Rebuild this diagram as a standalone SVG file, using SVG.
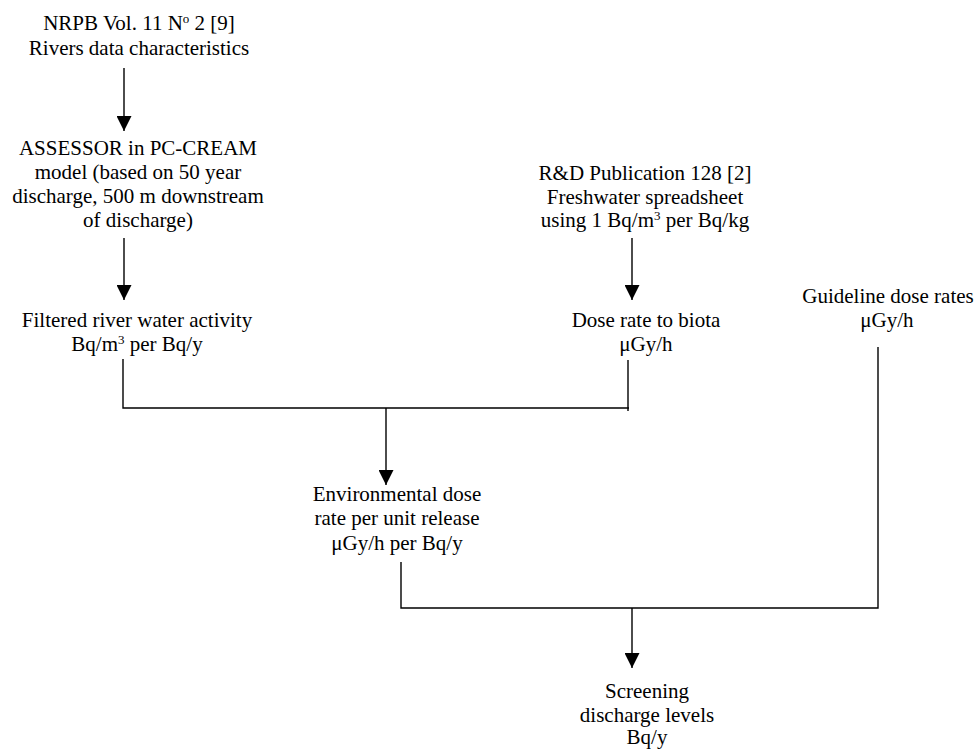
<svg xmlns="http://www.w3.org/2000/svg" width="976" height="749" viewBox="0 0 976 749">
<style>
text{font-family:"Liberation Serif","Times New Roman",serif;font-size:21px;fill:#000;text-anchor:middle}
.sup{font-size:13px}
.ln{stroke:#000;stroke-width:1.4;fill:none}
</style>
<defs>
<marker id="ah" markerUnits="userSpaceOnUse" markerWidth="15" markerHeight="15" refX="15" refY="7.5" orient="auto">
<path d="M0,0 L15,7.5 L0,15 z" fill="#000"/>
</marker>
</defs>
<rect width="976" height="749" fill="#fff"/>
<g id="n-nrpb">
<text x="139" y="30">NRPB Vol. 11 N<tspan class="sup" baseline-shift="super">o</tspan> 2 [9]</text>
<text x="139" y="55">Rivers data characteristics</text>
</g>
<g id="n-assessor">
<text x="138" y="155">ASSESSOR in PC-CREAM</text>
<text x="138" y="179">model (based on 50 year</text>
<text x="138" y="203">discharge, 500 m downstream</text>
<text x="138" y="227">of discharge)</text>
</g>
<g id="n-filtered">
<text x="137" y="327">Filtered river water activity</text>
<text x="137" y="351">Bq/m<tspan class="sup" baseline-shift="super">3</tspan> per Bq/y</text>
</g>
<g id="n-rd">
<text x="645" y="180">R&amp;D Publication 128 [2]</text>
<text x="645" y="204">Freshwater spreadsheet</text>
<text x="645" y="227">using 1 Bq/m<tspan class="sup" baseline-shift="super">3</tspan> per Bq/kg</text>
</g>
<g id="n-dose">
<text x="646" y="327">Dose rate to biota</text>
<text x="646" y="351">μGy/h</text>
</g>
<g id="n-guideline">
<text x="888" y="303">Guideline dose rates</text>
<text x="887" y="327">μGy/h</text>
</g>
<g id="n-env">
<text x="397" y="501">Environmental dose</text>
<text x="397" y="525">rate per unit release</text>
<text x="397" y="550">μGy/h per Bq/y</text>
</g>
<g id="n-screening">
<text x="647" y="698">Screening</text>
<text x="647" y="722">discharge levels</text>
<text x="647" y="744">Bq/y</text>
</g>
<g id="connectors">
<line class="ln" x1="124" y1="68" x2="124" y2="131" marker-end="url(#ah)"/>
<line class="ln" x1="124" y1="238" x2="124" y2="300" marker-end="url(#ah)"/>
<line class="ln" x1="632" y1="238" x2="632" y2="300" marker-end="url(#ah)"/>
<polyline class="ln" points="123,359 123,408 629,408"/>
<line class="ln" x1="628" y1="360" x2="628" y2="411"/>
<line class="ln" x1="386" y1="408" x2="386" y2="485" marker-end="url(#ah)"/>
<polyline class="ln" points="401,562 401,608 878,608 878,347"/>
<line class="ln" x1="632" y1="608" x2="632" y2="668" marker-end="url(#ah)"/>
</g>
</svg>
